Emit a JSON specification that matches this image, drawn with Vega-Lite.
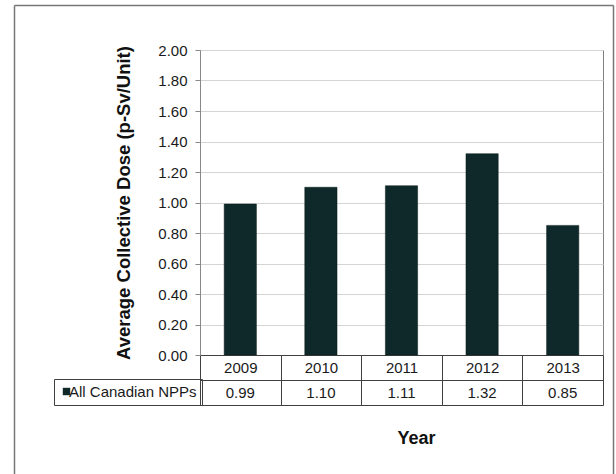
{
  "$schema": "https://vega.github.io/schema/vega-lite/v6.json",
  "width": 403,
  "height": 305,
  "autosize": {"type": "none"},
  "padding": {"left": 200, "top": 50, "right": 13, "bottom": 119},
  "background": "white",
  "data": {
    "values": [
      {"Year": "2009", "Dose": 0.99, "Series": "All Canadian NPPs"},
      {"Year": "2010", "Dose": 1.10, "Series": "All Canadian NPPs"},
      {"Year": "2011", "Dose": 1.11, "Series": "All Canadian NPPs"},
      {"Year": "2012", "Dose": 1.32, "Series": "All Canadian NPPs"},
      {"Year": "2013", "Dose": 0.85, "Series": "All Canadian NPPs"}
    ]
  },
  "config": {
    "font": "Liberation Sans",
    "view": {"stroke": "#808080", "strokeWidth": 1}
  },
  "resolve": {"scale": {"x": "independent", "y": "independent"}, "axis": {"x": "independent", "y": "independent"}},
  "layer": [
    {
      "resolve": {"scale": {"y": "independent"}, "axis": {"y": "independent"}},
      "layer": [
        {
          "mark": {"type": "bar", "width": {"band": 0.4}, "stroke": "#0a1c1d", "strokeWidth": 0.5},
          "encoding": {
            "x": {
              "field": "Year",
              "type": "ordinal",
              "scale": {"type": "band", "paddingInner": 0, "paddingOuter": 0},
              "axis": {
                "orient": "bottom",
                "title": "Year",
                "labelAngle": 0,
                "tickBand": "extent",
                "tickSize": 50,
                "tickColor": "#404040",
                "domainColor": "#404040",
                "labelPadding": -37.5,
                "labelBaseline": "middle",
                "labelFontSize": 15,
                "labelColor": "#1a1a1a",
                "titleFontSize": 18,
                "titleFontWeight": "bold",
                "titleColor": "#111111",
                "titleBaseline": "alphabetic",
                "titleX": 216,
                "titleY": 88
              }
            },
            "y": {
              "field": "Dose",
              "type": "quantitative",
              "scale": {"domain": [0, 2], "nice": false},
              "axis": {
                "values": [0, 0.2, 0.4, 0.6, 0.8, 1.0, 1.2, 1.4, 1.6, 1.8, 2.0],
                "format": ".2f",
                "title": "Average Collective Dose (p-Sv/Unit)",
                "grid": true,
                "gridColor": "#d4d4d4",
                "tickSize": 5,
                "tickColor": "#888888",
                "domainColor": "#888888",
                "labelPadding": 8,
                "labelFontSize": 15,
                "labelColor": "#1a1a1a",
                "titleFontSize": 18.5,
                "titleFontWeight": "bold",
                "titleColor": "#111111",
                "titlePadding": 24
              }
            },
            "color": {
              "field": "Series",
              "type": "nominal",
              "scale": {"range": ["#0f2829"]},
              "legend": {
                "orient": "none",
                "legendX": -146,
                "legendY": 329,
                "title": null,
                "symbolType": "square",
                "symbolSize": 55,
                "symbolStrokeWidth": 0,
                "labelFontSize": 15,
                "labelColor": "#1a1a1a",
                "labelOffset": -5,
                "strokeColor": "#404040",
                "padding": 5
              }
            }
          }
        },
        {
          "mark": {"type": "text", "fontSize": 15, "color": "#1a1a1a", "baseline": "middle"},
          "encoding": {
            "x": {"field": "Year", "type": "ordinal"},
            "y": {
              "field": "Series",
              "type": "nominal",
              "scale": {"type": "band", "range": [330, 355], "paddingInner": 0, "paddingOuter": 0},
              "axis": {
                "orient": "left",
                "title": null,
                "labels": false,
                "ticks": false,
                "domain": true,
                "domainColor": "#404040",
                "grid": true,
                "gridColor": "#404040",
                "tickBand": "extent"
              }
            },
            "text": {"field": "Dose", "type": "quantitative", "format": ".2f"}
          }
        }
      ]
    },
    {
      "mark": {"type": "point", "opacity": 0},
      "encoding": {
        "x": {
          "datum": 0,
          "type": "quantitative",
          "scale": {"domain": [0, 1], "range": [-186, 413]},
          "axis": {"orient": "top", "offset": 45, "domain": true, "domainColor": "#777777", "domainWidth": 1.5, "ticks": false, "labels": false, "grid": false, "title": null}
        },
        "y": {
          "datum": 0,
          "type": "quantitative",
          "scale": {"domain": [0, 1], "range": [430, -45]},
          "axis": {"orient": "left", "offset": 186, "domain": true, "domainColor": "#777777", "domainWidth": 1.5, "ticks": false, "labels": false, "grid": false, "title": null}
        }
      }
    },
    {
      "mark": {"type": "point", "opacity": 0},
      "encoding": {
        "y": {
          "datum": 0,
          "type": "quantitative",
          "scale": {"domain": [0, 1], "range": [430, -45]},
          "axis": {"orient": "right", "offset": 10, "domain": true, "domainColor": "#777777", "domainWidth": 1.5, "ticks": false, "labels": false, "grid": false, "title": null}
        }
      }
    }
  ]
}
